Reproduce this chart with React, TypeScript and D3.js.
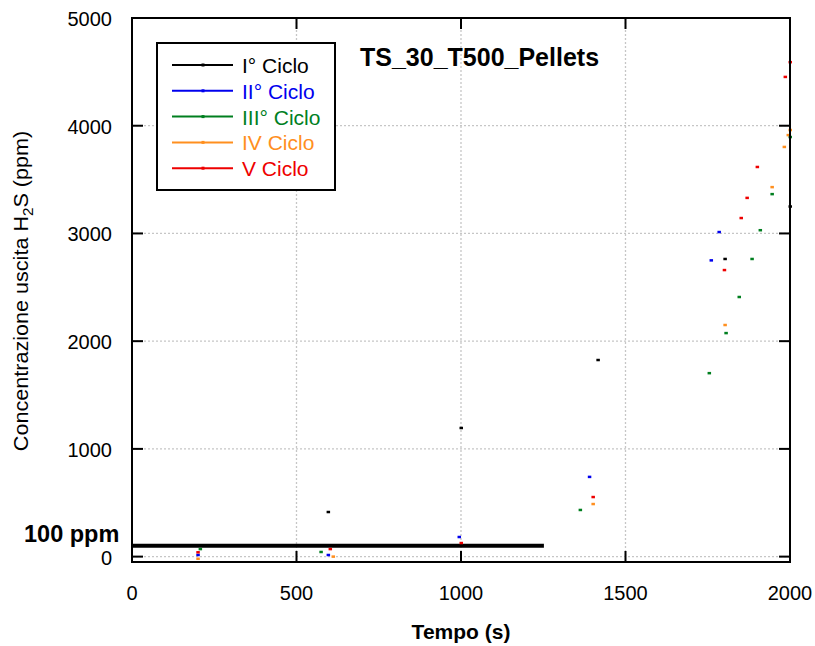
import React from "react";
import * as d3 from "d3";

const seriesNames = ["I° Ciclo", "II° Ciclo", "III° Ciclo", "IV Ciclo", "V Ciclo"];
const seriesColors = ["#000000", "#0000ee", "#007f1f", "#ff8f1f", "#ee0000"];

const timeI = [596, 1000, 1416, 1802, 2000];
const concI = [414, 1194, 1825, 2763, 3250];
const timeII = [200, 596, 994, 1390, 1760, 1784];
const concII = [15, 15, 182, 740, 2750, 3013];
const timeIII = [207, 574, 1362, 1754, 1805, 1845, 1884, 1909, 1945, 2000];
const concIII = [70, 43, 433, 1703, 2075, 2410, 2763, 3030, 3365, 3895];
const timeIV = [200, 611, 1401, 1802, 1945, 1982, 1994, 2000];
const concIV = [-20, 0, 488, 2150, 3430, 3803, 3913, 3960];
const timeV = [200, 602, 1000, 1401, 1800, 1851, 1869, 1900, 1985, 2000];
const concV = [40, 70, 126, 553, 2660, 3143, 3330, 3617, 4453, 4590];

const xTicks = [0, 500, 1000, 1500, 2000];
const yTicks = [0, 1000, 2000, 3000, 4000, 5000];
const limitValue = 100;
const limitEnd = 1252;
const limitLabel = "100 ppm";
const title = "TS_30_T500_Pellets";
const xLabel = "Tempo (s)";

const series = [
  { t: timeI, v: concI },
  { t: timeII, v: concII },
  { t: timeIII, v: concIII },
  { t: timeIV, v: concIV },
  { t: timeV, v: concV },
];

export default function App() {
  const W = 815, H = 646;
  const left = 132, right = 790, top = 18, bottom = 562;
  const x = d3.scaleLinear().domain([0, 2000]).range([left, right]);
  const y = d3.scaleLinear().domain([-50, 5000]).range([bottom, top]);
  const font = "'Liberation Sans', Arial, Helvetica, sans-serif";
  const tickLen = 11;
  const grid = "#c6c6c6";

  return (
    <svg width={W} height={H} style={{ position: "absolute", left: 0, top: 0, background: "#fff" }} fontFamily={font}>
      <rect x={0} y={0} width={W} height={H} fill="#fff" />
      {/* grid */}
      {yTicks.map((t) => (
        <line key={"gy" + t} x1={left} x2={right} y1={y(t)} y2={y(t)} stroke={grid} strokeWidth={1.3} strokeDasharray="2,2" />
      ))}
      {xTicks.slice(1, -1).map((t) => (
        <line key={"gx" + t} x1={x(t)} x2={x(t)} y1={top} y2={bottom} stroke={grid} strokeWidth={1.3} strokeDasharray="2,2" />
      ))}
      {/* limit line */}
      <line x1={x(0)} x2={x(limitEnd)} y1={y(limitValue)} y2={y(limitValue)} stroke="#000" strokeWidth={4} />
      {/* data markers */}
      {series.map((s, i) =>
        s.t.map((t, j) => (
          <rect key={`p${i}-${j}`} x={x(t) - 1.5} y={y(s.v[j]) - 1.25} width={3.5} height={2.5} fill={seriesColors[i]} />
        ))
      )}
      {/* frame */}
      <rect x={left} y={top} width={right - left} height={bottom - top} fill="none" stroke="#000" strokeWidth={2} />
      {/* ticks */}
      {xTicks.map((t) => (
        <g key={"tx" + t}>
          <line x1={x(t)} x2={x(t)} y1={bottom} y2={bottom - tickLen} stroke="#000" strokeWidth={2} />
          <line x1={x(t)} x2={x(t)} y1={top} y2={top + tickLen} stroke="#000" strokeWidth={2} />
          <text x={x(t)} y={600} fontSize={20} textAnchor="middle" fill="#000" fontFamily={font}>{t}</text>
        </g>
      ))}
      {yTicks.map((t) => (
        <g key={"ty" + t}>
          <line x1={left} x2={left + tickLen} y1={y(t)} y2={y(t)} stroke="#000" strokeWidth={2} />
          <line x1={right} x2={right - tickLen} y1={y(t)} y2={y(t)} stroke="#000" strokeWidth={2} />
          <text x={112} y={y(t) + 8} fontSize={20} textAnchor="end" fill="#000" fontFamily={font}>{t}</text>
        </g>
      ))}
      {/* labels */}
      <text x={(left + right) / 2} y={639} fontSize={21} fontWeight="bold" textAnchor="middle" fontFamily={font}>{xLabel}</text>
      <g transform={`translate(28, 291) rotate(-90) scale(1.08, 1)`}>
        <text x={0} y={0} fontSize={20} textAnchor="middle" fontFamily={font}>
          Concentrazione uscita H<tspan fontSize={14} dy={5}>2</tspan><tspan dy={-5}>S (ppm)</tspan>
        </text>
      </g>
      <text x={24} y={542} fontSize={23.5} fontWeight="bold" fontFamily={font}>{limitLabel}</text>
      <text x={360} y={66} fontSize={25} fontWeight="bold" fontFamily={font}>{title}</text>
      {/* legend */}
      <rect x={157} y={43} width={178} height={147} fill="#fff" stroke="#000" strokeWidth={2} />
      {seriesNames.map((n, i) => {
        const ly = 65 + i * 25.8;
        return (
          <g key={"lg" + i}>
            <line x1={172} x2={233} y1={ly} y2={ly} stroke={seriesColors[i]} strokeWidth={2} />
            <rect x={201.5} y={ly - 1.5} width={3} height={3} fill={seriesColors[i]} />
            <text x={242} y={ly + 8} fontSize={21} fill={seriesColors[i]} fontFamily={font}>{n}</text>
          </g>
        );
      })}
    </svg>
  );
}
